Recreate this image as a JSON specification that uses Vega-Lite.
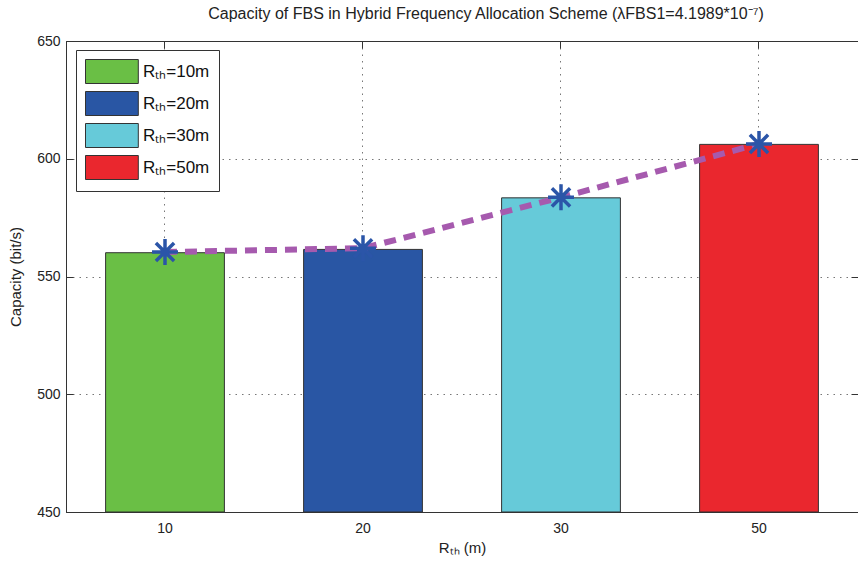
{
  "$schema": "https://vega.github.io/schema/vega-lite/v6.json",
  "width": 792,
  "height": 471,
  "autosize": "none",
  "padding": {"left": 66, "top": 41, "right": 0, "bottom": 51},
  "background": "white",
  "title": {
    "text": "Capacity of FBS in Hybrid Frequency Allocation Scheme (λFBS1=4.1989*10⁻⁷)",
    "fontSize": 16,
    "font": "Liberation Sans",
    "fontWeight": "normal",
    "color": "#222222",
    "anchor": "middle",
    "dx": 24,
    "offset": 12
  },
  "data": {
    "values": [
      {"rth": "10", "capacity": 560.1, "line": 560.4, "label": "Rₜₕ=10m"},
      {"rth": "20", "capacity": 561.5, "line": 562.0, "label": "Rₜₕ=20m"},
      {"rth": "30", "capacity": 583.4, "line": 583.6, "label": "Rₜₕ=30m"},
      {"rth": "50", "capacity": 606.1, "line": 606.3, "label": "Rₜₕ=50m"}
    ]
  },
  "resolve": {"axis": {"x": "independent", "y": "independent"}},
  "layer": [
    {
      "mark": {"type": "bar", "stroke": "#333333", "strokeWidth": 1},
      "encoding": {
        "x": {
          "field": "rth", "type": "ordinal", "sort": null,
          "scale": {"paddingInner": 0.4, "paddingOuter": 0.2},
          "axis": {
            "orient": "bottom", "title": "Rₜₕ (m)", "labelAngle": 0,
            "tickSize": -7, "labelPadding": 16, "titlePadding": 5,
            "grid": true, "gridDash": [1.5, 5], "gridColor": "#777777"
          }
        },
        "y": {
          "field": "capacity", "type": "quantitative",
          "scale": {"domain": [450, 650], "nice": false, "zero": false},
          "axis": {
            "orient": "left", "title": "Capacity (bit/s)",
            "values": [450, 500, 550, 600, 650],
            "tickSize": -7, "labelPadding": 13, "titlePadding": 13,
            "grid": true, "gridDash": [1.5, 5], "gridColor": "#777777"
          }
        },
        "y2": {"datum": 450},
        "color": {
          "field": "label", "type": "nominal", "sort": null,
          "scale": {
            "domain": ["Rₜₕ=10m", "Rₜₕ=20m", "Rₜₕ=30m", "Rₜₕ=50m"],
            "range": ["#6abf45", "#2956a4", "#66cad9", "#ea272e"]
          },
          "legend": {
            "orient": "none", "legendX": 10, "legendY": 9,
            "title": null,
            "symbolType": "M-1,-1H3.4V1H-1Z",
            "symbolSize": 576,
            "symbolStrokeColor": "#333333",
            "symbolStrokeWidth": 1,
            "symbolOpacity": 1,
            "labelFontSize": 17,
            "labelFont": "Liberation Sans",
            "labelColor": "#111111",
            "labelOffset": 33,
            "rowPadding": 3,
            "padding": 9,
            "strokeColor": "#333333",
            "fillColor": "white",
            "cornerRadius": 0
          }
        }
      }
    },
    {
      "mark": {"type": "line", "color": "#a65aae", "strokeWidth": 6, "strokeDash": [12, 8]},
      "encoding": {
        "x": {
          "field": "rth", "type": "ordinal", "sort": null,
          "axis": {"orient": "top", "title": null, "labels": false, "tickSize": -7, "grid": false}
        },
        "y": {
          "field": "line", "type": "quantitative",
          "axis": {"orient": "right", "title": null, "labels": false, "tickSize": -7, "grid": false,
                   "values": [450, 500, 550, 600, 650]}
        }
      }
    },
    {
      "mark": {
        "type": "point",
        "shape": "M0,-1V1M-1,0H1M-0.7,-0.7L0.7,0.7M-0.7,0.7L0.7,-0.7",
        "size": 676,
        "stroke": "#2b55a8",
        "strokeWidth": 3.5,
        "filled": false,
        "opacity": 1
      },
      "encoding": {
        "x": {"field": "rth", "type": "ordinal", "sort": null, "axis": null},
        "y": {"field": "line", "type": "quantitative", "axis": null}
      }
    }
  ],
  "config": {
    "view": {"stroke": "#333333", "strokeWidth": 1},
    "axis": {
      "labelFont": "Liberation Sans",
      "titleFont": "Liberation Sans",
      "labelFontSize": 14,
      "titleFontSize": 15,
      "titleFontWeight": "normal",
      "labelColor": "#222222",
      "titleColor": "#222222",
      "domainColor": "#333333",
      "tickColor": "#333333",
      "domainWidth": 1
    }
  }
}
